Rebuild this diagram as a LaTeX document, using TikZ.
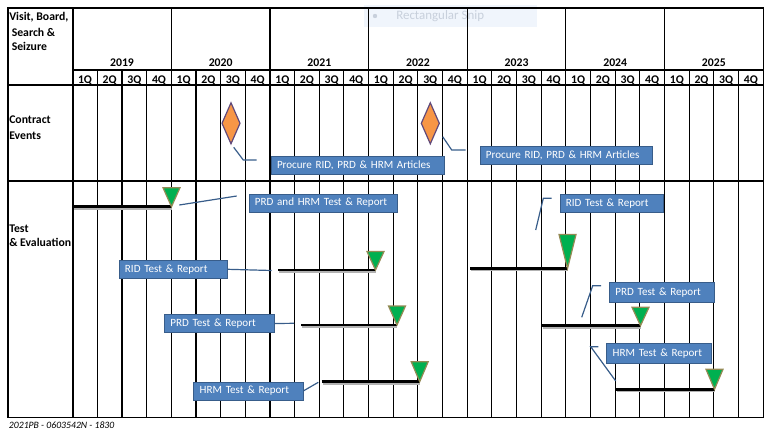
\documentclass[tikz,border=0pt]{standalone}
\usepackage{fontspec}
\setmainfont{Carlito}
\usetikzlibrary{positioning}
\definecolor{callfill}{RGB}{79,129,189}
\definecolor{callline}{RGB}{56,93,138}
\definecolor{eventfill}{RGB}{247,150,70}
\definecolor{eventline}{RGB}{96,73,122}
\definecolor{donefill}{RGB}{0,176,80}
\definecolor{doneline}{RGB}{148,138,84}
\definecolor{snipfill}{RGB}{240,245,252}
\definecolor{sniptext}{RGB}{200,208,220}
\tikzset{
  hdr/.style={font=\fontsize{8.8}{10}\selectfont\bfseries, inner sep=0pt},
  tag/.style={draw=callline, fill=callfill, text=white, font=\fontsize{8.3}{10}\selectfont,
              inner xsep=4.5pt, inner ysep=0pt, minimum height=13.5pt, align=left, text width=#1,
              execute at begin node={\hyphenpenalty=10000\exhyphenpenalty=10000}},
  lead/.style={callline, line width=0.9pt},
  bar/.style={line width=2.2pt},
  shade/.style={black!30, line width=1.4pt},
  event/.style={draw=eventline, fill=eventfill, line width=0.9pt},
  mile/.style={draw=doneline, fill=donefill, line width=0.9pt},
}
\newcommand\qw{24.66}
\newcommand\eventmark[2]{\draw[event] (#1,#2-20.5) -- (#1+9,#2) -- (#1,#2+20.5) -- (#1-9,#2) -- cycle;}
\newcommand\milestone[3]{\draw[mile] (#1,#2) -- (#1-8.5,#2-#3) -- (#1+8.5,#2-#3) -- cycle;}
\begin{document}
\begin{tikzpicture}[x=0.75pt,y=-0.75pt]
    \useasboundingbox (0,0) rectangle (777,439);
    \fill[snipfill] (364,5) rectangle (537,27);
    \fill[sniptext] (375,16) circle (2.2);
    \node[font=\fontsize{9.7}{11}\selectfont, text=sniptext, anchor=west, inner sep=0pt] (snip) at (396,16) {Rectangular Snip};
    % grid
    \draw[line width=0.8pt] (8,8) rectangle (763.3,417.7);
    \draw[line width=0.8pt] (72.7,70) -- (763.3,70);
    \draw[line width=0.8pt] (8,85) -- (763.3,85);
    \draw[line width=0.8pt] (8,181) -- (763.3,181);
    \foreach \k in {1,...,27} {
      \pgfmathtruncatemacro\r{mod(\k,4)}
      \ifnum\r=0
        \draw[line width=0.8pt] (72.7+\k*\qw,8) -- (72.7+\k*\qw,417.7);
      \else
        \draw[line width=0.8pt] (72.7+\k*\qw,70) -- (72.7+\k*\qw,417.7);
      \fi }
    \draw[line width=1.6pt] (72.7,8) -- (72.7,417.7);
    \foreach \y [count=\i from 0] in {2019,...,2025}
      \node[hdr, anchor=base] (y\y) at (72.7+\i*4*\qw+2*\qw,66) {\y};
    \foreach \k in {0,...,27} {
      \pgfmathtruncatemacro\q{mod(\k,4)+1}
      \node[hdr, anchor=base] (q\k) at (72.7+\k*\qw+0.5*\qw,83) {\q Q}; }
    \node[hdr, anchor=base west] (vbss1) at (9,20) {Visit, Board,};
    \node[hdr, anchor=base west] (vbss2) at (11.5,36) {Search \&};
    \node[hdr, anchor=base west] (vbss3) at (11.5,50.5) {Seizure};
    \node[hdr, anchor=base west] (ce1) at (9,123) {Contract};
    \node[hdr, anchor=base west] (ce2) at (9,139) {Events};
    \node[hdr, anchor=base west] (te1) at (9,232) {Test};
    \node[hdr, anchor=base west] (te2) at (9,246.5) {\& Evaluation};
    \node[font=\fontsize{7.3}{8}\selectfont\itshape, anchor=base west, inner sep=0pt] (pb) at (8.7,428) {2021PB - 0603542N - 1830};
    % contract events
    \eventmark{231}{123.3}
    \eventmark{430.3}{123.3}
    \node[tag=120.75pt] (procA) at (357.5,165.5) {Procure RID, PRD \& HRM Articles};
    \node[tag=120.5pt]  (procB) at (566.3,155) {Procure RID, PRD \& HRM Articles};
    \coordinate (pa1) at (233.7,147.3);
    \coordinate (pa2) at (256.7,160);
    \coordinate (pb1) at (442.7,136.7);
    \coordinate (pb2) at (465.7,150);
    \draw[lead] (pa1) -- (243.3,160) -- (pa2);
    \draw[lead] (pb1) -- (451.7,150) -- (pb2);
    % test and evaluation
    \foreach \xa/\xb/\yy/\hh in {73.3/171.5/206.7/19, 278.3/375.5/270/18.5, 470/567.5/268.5/34,
                                 301/397/325/19, 321.7/419.7/381.7/20, 541.7/640.5/325.7/18.4,
                                 615.7/714.5/389.3/20} {
      \draw[shade] (\xa+1,\yy+2) -- (\xb,\yy+2);
      \draw[bar] (\xa,\yy) -- (\xb,\yy);
      \milestone{\xb}{\yy}{\hh} }
    \node[tag=102.5pt] (prdhrm) at (323.3,203) {PRD and HRM Test \& Report};
    \node[tag=72.5pt]  (ridA)   at (173.3,269.3) {RID Test \& Report};
    \node[tag=68.8pt]  (ridB)   at (611.8,203.3) {RID Test \& Report};
    \node[tag=73.3pt]  (prdA)   at (219.2,323.5) {PRD Test \& Report};
    \node[tag=73.2pt]  (hrmA)   at (248.5,390.8) {HRM Test \& Report};
    \node[tag=69.5pt, minimum height=15pt] (prdB) at (661.7,292.5) {PRD Test \& Report};
    \node[tag=69.75pt, minimum height=15pt] (hrmB) at (659.2,353.5) {HRM Test \& Report};
    \coordinate (ph1) at (179.3,205);
    \coordinate (ph2) at (236.7,196);
    \coordinate (ra) at (271.7,270.5);
    \coordinate (pr) at (294,323.3);
    \coordinate (hr) at (318.3,382.3);
    \coordinate (rb1) at (535.7,230);
    \coordinate (rb2) at (551.7,198.3);
    \coordinate (pb1) at (581.7,317.3);
    \coordinate (pb2) at (601,285.7);
    \coordinate (hb1) at (615.7,381);
    \coordinate (hb2) at (598.3,346.7);
    \draw[lead] (ph1) -- (ph2);
    \draw[lead] (ridA.east) -- (ra);
    \draw[lead] (prdA.east) -- (pr);
    \draw[lead] (hrmA.east) -- (hr);
    \draw[lead] (rb1) -- (543.3,198.3) -- (rb2);
    \draw[lead] (pb1) -- (592.7,285.7) -- (pb2);
    \draw[lead] (hb1) -- (590.7,346.7) -- (hb2);
\end{tikzpicture}
\end{document}
